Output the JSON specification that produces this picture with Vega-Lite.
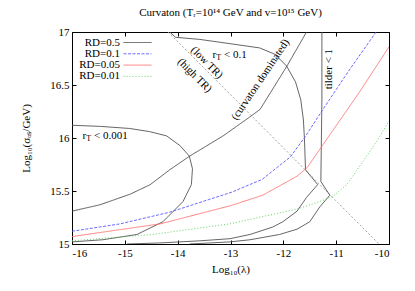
{
  "$schema": "https://vega.github.io/schema/vega-lite/v6.json",
  "width": 317,
  "height": 212,
  "autosize": {"type": "none"},
  "padding": {"left": 72, "top": 32, "right": 26, "bottom": 47},
  "title": {"text": "Curvaton (Tᵣ=10¹⁴ GeV and v=10¹⁵ GeV)", "fontSize": 11, "font": "Liberation Serif", "fontWeight": "normal", "offset": 8, "color": "#000"},
  "config": {
    "font": "Liberation Serif",
    "view": {"stroke": "#000", "strokeWidth": 1},
    "axis": {"grid": false, "domain": false, "tickColor": "#000", "tickSize": -4, "labelFont": "Liberation Serif", "labelFontSize": 11, "labelColor": "#000", "titleFont": "Liberation Serif", "titleFontSize": 11, "titleFontWeight": "normal", "titleColor": "#000"}
  },
  "datasets": {
    "rd": [
      {"s": "RD=0.5", "i": 0, "x": -16, "y": 15.31},
      {"s": "RD=0.5", "i": 1, "x": -15.47, "y": 15.37},
      {"s": "RD=0.5", "i": 2, "x": -14.9, "y": 15.47},
      {"s": "RD=0.5", "i": 3, "x": -14.52, "y": 15.56},
      {"s": "RD=0.5", "i": 4, "x": -14.15, "y": 15.7},
      {"s": "RD=0.5", "i": 5, "x": -13.77, "y": 15.83},
      {"s": "RD=0.5", "i": 6, "x": -13.14, "y": 16.02},
      {"s": "RD=0.5", "i": 7, "x": -12.63, "y": 16.2},
      {"s": "RD=0.5", "i": 8, "x": -12.44, "y": 16.27},
      {"s": "RD=0.5", "i": 9, "x": -11.93, "y": 16.68},
      {"s": "RD=0.5", "i": 10, "x": -11.55, "y": 17.01},
      {"s": "RD=0.1", "i": 0, "x": -16, "y": 15.12},
      {"s": "RD=0.1", "i": 1, "x": -15.09, "y": 15.19},
      {"s": "RD=0.1", "i": 2, "x": -14.15, "y": 15.3},
      {"s": "RD=0.1", "i": 3, "x": -12.97, "y": 15.49},
      {"s": "RD=0.1", "i": 4, "x": -12.4, "y": 15.61},
      {"s": "RD=0.1", "i": 5, "x": -11.87, "y": 15.82},
      {"s": "RD=0.1", "i": 6, "x": -11.59, "y": 16.01},
      {"s": "RD=0.1", "i": 7, "x": -11.25, "y": 16.27},
      {"s": "RD=0.1", "i": 8, "x": -10.74, "y": 16.65},
      {"s": "RD=0.1", "i": 9, "x": -10.23, "y": 17.01},
      {"s": "RD=0.05", "i": 0, "x": -16, "y": 15.07},
      {"s": "RD=0.05", "i": 1, "x": -14.33, "y": 15.19},
      {"s": "RD=0.05", "i": 2, "x": -13.01, "y": 15.36},
      {"s": "RD=0.05", "i": 3, "x": -12.39, "y": 15.46},
      {"s": "RD=0.05", "i": 4, "x": -11.74, "y": 15.64},
      {"s": "RD=0.05", "i": 5, "x": -11.55, "y": 15.72},
      {"s": "RD=0.05", "i": 6, "x": -11.12, "y": 16.03},
      {"s": "RD=0.05", "i": 7, "x": -10.55, "y": 16.44},
      {"s": "RD=0.05", "i": 8, "x": -10.0, "y": 16.86},
      {"s": "RD=0.01", "i": 0, "x": -16, "y": 15.03},
      {"s": "RD=0.01", "i": 1, "x": -14.47, "y": 15.09},
      {"s": "RD=0.01", "i": 2, "x": -13.01, "y": 15.19},
      {"s": "RD=0.01", "i": 3, "x": -12.38, "y": 15.26},
      {"s": "RD=0.01", "i": 4, "x": -11.74, "y": 15.33},
      {"s": "RD=0.01", "i": 5, "x": -11.31, "y": 15.4},
      {"s": "RD=0.01", "i": 6, "x": -11.06, "y": 15.45},
      {"s": "RD=0.01", "i": 7, "x": -10.8, "y": 15.56},
      {"s": "RD=0.01", "i": 8, "x": -10.49, "y": 15.78},
      {"s": "RD=0.01", "i": 9, "x": -10.23, "y": 15.97},
      {"s": "RD=0.01", "i": 10, "x": -10.0, "y": 16.16}
    ],
    "ct": [
      {"c": "rt01", "i": 0, "x": -14.15, "y": 17.0},
      {"c": "rt01", "i": 1, "x": -14.04, "y": 16.95},
      {"c": "rt01", "i": 2, "x": -13.58, "y": 16.93},
      {"c": "rt01", "i": 3, "x": -13.01, "y": 16.89},
      {"c": "rt01", "i": 4, "x": -12.45, "y": 16.85},
      {"c": "rt01", "i": 5, "x": -12.16, "y": 16.79},
      {"c": "rt01", "i": 6, "x": -11.94, "y": 16.68},
      {"c": "rt01", "i": 7, "x": -11.77, "y": 16.53},
      {"c": "rt01", "i": 8, "x": -11.67, "y": 16.36},
      {"c": "rt01", "i": 9, "x": -11.62, "y": 16.17},
      {"c": "rt01", "i": 10, "x": -11.6, "y": 15.99},
      {"c": "rt01", "i": 11, "x": -11.58, "y": 15.7},
      {"c": "rt01", "i": 12, "x": -11.35, "y": 15.56},
      {"c": "rt01", "i": 13, "x": -11.56, "y": 15.44},
      {"c": "rt01", "i": 14, "x": -11.74, "y": 15.31},
      {"c": "rt01", "i": 15, "x": -12.01, "y": 15.21},
      {"c": "rt01", "i": 16, "x": -12.2, "y": 15.16},
      {"c": "rt01", "i": 17, "x": -12.63, "y": 15.09},
      {"c": "rt01", "i": 18, "x": -13.01, "y": 15.05},
      {"c": "rt01", "i": 19, "x": -13.58, "y": 15.03},
      {"c": "rt01", "i": 20, "x": -14.34, "y": 15.01},
      {"c": "rt01", "i": 21, "x": -14.96, "y": 15.0},
      {"c": "tilde", "i": 0, "x": -11.27, "y": 17.0},
      {"c": "tilde", "i": 1, "x": -11.27, "y": 16.36},
      {"c": "tilde", "i": 2, "x": -11.29, "y": 15.59},
      {"c": "tilde", "i": 3, "x": -11.12, "y": 15.46},
      {"c": "tilde", "i": 4, "x": -11.31, "y": 15.35},
      {"c": "tilde", "i": 5, "x": -11.5, "y": 15.21},
      {"c": "tilde", "i": 6, "x": -11.74, "y": 15.14},
      {"c": "tilde", "i": 7, "x": -12.07, "y": 15.09},
      {"c": "tilde", "i": 8, "x": -12.63, "y": 15.04},
      {"c": "tilde", "i": 9, "x": -13.01, "y": 15.02},
      {"c": "tilde", "i": 10, "x": -13.77, "y": 15.0},
      {"c": "rt001", "i": 0, "x": -16.0, "y": 16.12},
      {"c": "rt001", "i": 1, "x": -15.48, "y": 16.11},
      {"c": "rt001", "i": 2, "x": -14.91, "y": 16.09},
      {"c": "rt001", "i": 3, "x": -14.53, "y": 16.06},
      {"c": "rt001", "i": 4, "x": -14.21, "y": 16.02},
      {"c": "rt001", "i": 5, "x": -13.96, "y": 15.93},
      {"c": "rt001", "i": 6, "x": -13.78, "y": 15.83},
      {"c": "rt001", "i": 7, "x": -13.72, "y": 15.71},
      {"c": "rt001", "i": 8, "x": -13.74, "y": 15.56},
      {"c": "rt001", "i": 9, "x": -13.9, "y": 15.4},
      {"c": "rt001", "i": 10, "x": -14.28, "y": 15.21},
      {"c": "rt001", "i": 11, "x": -14.77, "y": 15.09},
      {"c": "rt001", "i": 12, "x": -15.42, "y": 15.04},
      {"c": "rt001", "i": 13, "x": -16.0, "y": 15.02}
    ],
    "dg": [
      {"i": 0, "x": -14.18, "y": 17.0},
      {"i": 1, "x": -10.19, "y": 15.0}
    ],
    "lab": [
      {"t": "(curvaton dominated)", "x": -12.43, "y": 16.55},
      {"t": "(low TR)", "x": -13.45, "y": 16.71},
      {"t": "(high TR)", "x": -13.68, "y": 16.59},
      {"t": "tilder < 1", "x": -11.14, "y": 16.65}
    ],
    "rt": [
      {"a": "r", "b": "T", "c": "< 0.1", "x": -13.34, "y": 16.78},
      {"a": "r", "b": "T", "c": "< 0.001", "x": -15.8, "y": 16.015}
    ]
  },
  "layer": [
    {
      "data": {"name": "dg"},
      "mark": {"type": "line", "clip": true, "stroke": "#999", "strokeWidth": 0.9, "strokeDash": [2, 2]},
      "encoding": {
        "x": {"field": "x", "type": "quantitative", "scale": {"domain": [-16, -10], "nice": false, "zero": false}, "axis": null},
        "y": {"field": "y", "type": "quantitative", "scale": {"domain": [15, 17], "nice": false, "zero": false}, "axis": null},
        "order": {"field": "i"}
      }
    },
    {
      "data": {"name": "ct"},
      "mark": {"type": "line", "clip": true, "stroke": "#555", "strokeWidth": 0.9},
      "encoding": {
        "x": {"field": "x", "type": "quantitative", "axis": {"orient": "top", "labels": false, "title": null, "values": [-16, -15, -14, -13, -12, -11, -10]}},
        "y": {"field": "y", "type": "quantitative", "axis": {"orient": "right", "labels": false, "title": null, "values": [15, 15.5, 16, 16.5, 17]}},
        "detail": {"field": "c"},
        "order": {"field": "i"}
      }
    },
    {
      "data": {"name": "rd"},
      "mark": {"type": "line", "clip": true, "strokeWidth": 0.9},
      "encoding": {
        "x": {"field": "x", "type": "quantitative", "axis": {"orient": "bottom", "values": [-16, -15, -14, -13, -12, -11, -10], "labelExpr": "'' + datum.value", "labelPadding": 7, "title": "Log₁₀(λ)", "titlePadding": 5}},
        "y": {"field": "y", "type": "quantitative", "axis": {"orient": "left", "values": [15, 15.5, 16, 16.5, 17], "labelExpr": "'' + datum.value", "labelPadding": 7, "title": "Log₁₀(σₒₛ/GeV)", "titlePadding": 18}},
        "color": {
          "field": "s", "type": "nominal",
          "scale": {"domain": ["RD=0.5", "RD=0.1", "RD=0.05", "RD=0.01"], "range": ["#444444", "#5a5aff", "#ff7070", "#55cc55"]},
          "legend": {"title": null, "orient": "none", "legendX": 60, "legendY": 5, "symbolType": "M-3.5,0H3.5", "symbolSize": 64, "symbolStrokeWidth": 0.9, "labelAlign": "right", "labelOffset": -23, "labelFontSize": 11, "labelFont": "Liberation Serif", "labelColor": "#000", "rowPadding": -0.7, "padding": 0,
            "encode": {"symbols": {"update": {"stroke": {"scale": "color", "field": "value"}, "strokeDash": {"scale": "strokeDash", "field": "value"}, "fill": {"value": "transparent"}}}}}
        },
        "strokeDash": {
          "field": "s", "type": "nominal",
          "scale": {"domain": ["RD=0.5", "RD=0.1", "RD=0.05", "RD=0.01"], "range": [[1, 0], [3, 1.5], [1, 0], [1, 2]]},
          "legend": null
        },
        "order": {"field": "i"}
      }
    },
    {
      "data": {"name": "lab"},
      "transform": [{"filter": "datum.t == '(curvaton dominated)'"}],
      "mark": {"type": "text", "angle": -56, "align": "center", "baseline": "middle", "fontSize": 11, "font": "Liberation Serif", "color": "#000"},
      "encoding": {
        "x": {"field": "x", "type": "quantitative", "axis": null},
        "y": {"field": "y", "type": "quantitative", "axis": null},
        "text": {"field": "t"}
      }
    },
    {
      "data": {"name": "lab"},
      "transform": [{"filter": "datum.t == '(low TR)' || datum.t == '(high TR)'"}],
      "mark": {"type": "text", "angle": 45, "align": "center", "baseline": "middle", "fontSize": 11, "font": "Liberation Serif", "color": "#000"},
      "encoding": {
        "x": {"field": "x", "type": "quantitative", "axis": null},
        "y": {"field": "y", "type": "quantitative", "axis": null},
        "text": {"field": "t"}
      }
    },
    {
      "data": {"name": "lab"},
      "transform": [{"filter": "datum.t == 'tilder < 1'"}],
      "mark": {"type": "text", "angle": -90, "align": "center", "baseline": "middle", "fontSize": 11, "font": "Liberation Serif", "color": "#000"},
      "encoding": {
        "x": {"field": "x", "type": "quantitative", "axis": null},
        "y": {"field": "y", "type": "quantitative", "axis": null},
        "text": {"field": "t"}
      }
    },
    {
      "data": {"name": "rt"},
      "mark": {"type": "text", "align": "left", "baseline": "middle", "fontSize": 11, "font": "Liberation Serif", "color": "#000"},
      "encoding": {
        "x": {"field": "x", "type": "quantitative", "axis": null},
        "y": {"field": "y", "type": "quantitative", "axis": null},
        "text": {"field": "a"}
      }
    },
    {
      "data": {"name": "rt"},
      "mark": {"type": "text", "align": "left", "baseline": "middle", "fontSize": 8, "font": "Liberation Serif", "color": "#000", "dx": 3.8, "dy": 3},
      "encoding": {
        "x": {"field": "x", "type": "quantitative", "axis": null},
        "y": {"field": "y", "type": "quantitative", "axis": null},
        "text": {"field": "b"}
      }
    },
    {
      "data": {"name": "rt"},
      "mark": {"type": "text", "align": "left", "baseline": "middle", "fontSize": 11, "font": "Liberation Serif", "color": "#000", "dx": 11.5},
      "encoding": {
        "x": {"field": "x", "type": "quantitative", "axis": null},
        "y": {"field": "y", "type": "quantitative", "axis": null},
        "text": {"field": "c"}
      }
    }
  ],
  "resolve": {"axis": {"x": "independent", "y": "independent"}}
}
